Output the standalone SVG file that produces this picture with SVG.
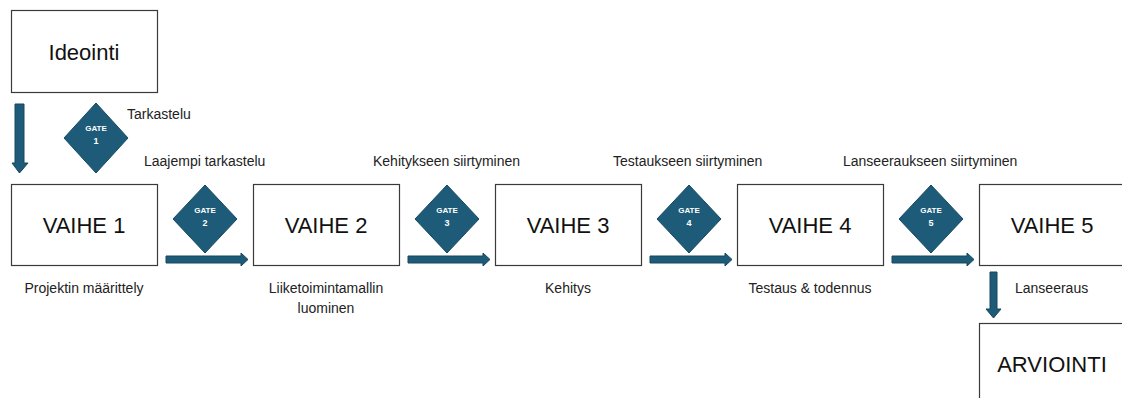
<svg xmlns="http://www.w3.org/2000/svg" width="1122" height="398" viewBox="0 0 1122 398">
<style>
.box{fill:#fff;stroke:#3a3a3a;stroke-width:1.2}
.big{font-family:"Liberation Sans",Arial,sans-serif;font-size:22px;fill:#111;text-anchor:middle}
.lbl{font-family:"Liberation Sans",Arial,sans-serif;font-size:14px;fill:#222}
.mid{text-anchor:middle}
.gate{fill:#1d5b79;stroke:#174a63;stroke-width:1}
.gt{font-family:"Liberation Sans",Arial,sans-serif;font-weight:bold;fill:#fff;text-anchor:middle}
.arr{fill:#1d5b79;stroke:#16485f;stroke-width:1}
</style>
<rect width="1122" height="398" fill="#fff"/>
<g id="ideointi"><rect class="box" x="11.5" y="10.5" width="146" height="82"/><text class="big" x="84" y="60" font-size="24">Ideointi</text></g>
<g id="vaihe1"><rect class="box" x="11.5" y="184.5" width="146" height="81"/><text class="big" x="84" y="233">VAIHE 1</text><text class="lbl mid" x="84" y="293">Projektin määrittely</text></g>
<g id="vaihe2"><rect class="box" x="253.5" y="184.5" width="146" height="81"/><text class="big" x="326" y="233">VAIHE 2</text><text class="lbl mid" x="326" y="293">Liiketoimintamallin</text><text class="lbl mid" x="326" y="313">luominen</text></g>
<g id="vaihe3"><rect class="box" x="495.5" y="184.5" width="146" height="81"/><text class="big" x="568" y="233">VAIHE 3</text><text class="lbl mid" x="568" y="293">Kehitys</text></g>
<g id="vaihe4"><rect class="box" x="737.5" y="184.5" width="146" height="81"/><text class="big" x="810" y="233">VAIHE 4</text><text class="lbl mid" x="810" y="293">Testaus &amp; todennus</text></g>
<g id="vaihe5"><rect class="box" x="979.5" y="184.5" width="146" height="81"/><text class="big" x="1052" y="233">VAIHE 5</text><text class="lbl" x="1015" y="293">Lanseeraus</text></g>
<g id="arviointi"><rect class="box" x="979.5" y="323.5" width="146" height="90"/><text class="big" x="1052" y="372">ARVIOINTI</text></g>
<g id="gate1"><polygon class="gate" points="96,103 128,138 96,173 64,138"/><text class="gt" x="96" y="131" font-size="8">GATE</text><text class="gt" x="96" y="144" font-size="9">1</text><text class="lbl" x="127" y="119">Tarkastelu</text></g>
<g id="gate2"><polygon class="gate" points="205,185 237,219 205,253 173,219"/><text class="gt" x="205" y="213" font-size="8">GATE</text><text class="gt" x="205" y="226" font-size="9">2</text><text class="lbl" x="144" y="166">Laajempi tarkastelu</text></g>
<g id="gate3"><polygon class="gate" points="447,185 479,219 447,253 415,219"/><text class="gt" x="447" y="213" font-size="8">GATE</text><text class="gt" x="447" y="226" font-size="9">3</text><text class="lbl" x="373" y="166">Kehitykseen siirtyminen</text></g>
<g id="gate4"><polygon class="gate" points="689,185 721,219 689,253 657,219"/><text class="gt" x="689" y="213" font-size="8">GATE</text><text class="gt" x="689" y="226" font-size="9">4</text><text class="lbl" x="613" y="166">Testaukseen siirtyminen</text></g>
<g id="gate5"><polygon class="gate" points="931,185 963,219 931,253 899,219"/><text class="gt" x="931" y="213" font-size="8">GATE</text><text class="gt" x="931" y="226" font-size="9">5</text><text class="lbl" x="843" y="166">Lanseeraukseen siirtyminen</text></g>
<g id="connectors">
<polygon class="arr" points="15,104 24,104 24,163 28,163 19.5,173 12,163 15,163"/>
<polygon class="arr" points="166,256 241,256 241,253 248,259.5 241,266 241,263 166,263"/>
<polygon class="arr" points="408,256 483,256 483,253 490,259.5 483,266 483,263 408,263"/>
<polygon class="arr" points="650,256 725,256 725,253 732,259.5 725,266 725,263 650,263"/>
<polygon class="arr" points="892,256 967,256 967,253 974,259.5 967,266 967,263 892,263"/>
<polygon class="arr" points="990,272 997,272 997,309 1001,309 993.5,318 986,309 990,309"/>
</g>
</svg>
